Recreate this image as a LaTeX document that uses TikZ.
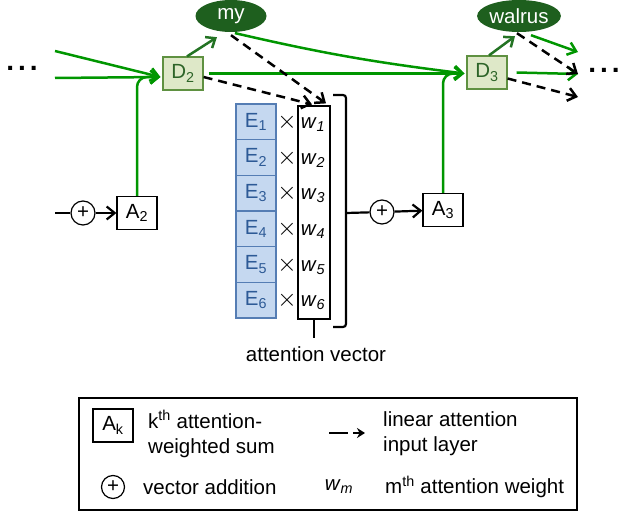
\documentclass[tikz,border=0pt]{standalone}
\usepackage{fontspec}
\setmainfont{Liberation Sans}
\usepackage{xcolor}
\usepackage{tikz}
\usetikzlibrary{arrows.meta, positioning, shapes.geometric}

\definecolor{FlowGreen}{RGB}{0,150,0}
\definecolor{WordGreen}{RGB}{30,95,30}
\definecolor{EmitGreen}{RGB}{35,115,35}
\definecolor{DecFill}{RGB}{222,232,200}
\definecolor{DecBorder}{RGB}{95,145,65}
\definecolor{DecText}{RGB}{45,100,40}
\definecolor{EncFill}{RGB}{197,216,240}
\definecolor{EncBorder}{RGB}{85,125,180}
\definecolor{EncText}{RGB}{45,90,150}

\begin{document}
\begin{tikzpicture}[
            x=1pt, y=-1pt,
            font=\fontsize{20.5}{25}\selectfont,
            word/.style={ellipse, fill=WordGreen, text=white, minimum width=71pt, minimum height=32pt, inner sep=0pt},
            dec/.style={draw=DecBorder, fill=DecFill, text=DecText, line width=1.2pt, minimum width=40pt, minimum height=33pt, inner sep=0pt},
            sum/.style={draw, line width=1.2pt, minimum width=40pt, minimum height=33pt, inner sep=0pt},
            enc/.style={draw=EncBorder, fill=EncFill, text=EncText, line width=1.2pt, minimum width=40pt, minimum height=35.7pt, inner sep=0pt},
            add/.style={circle, draw, line width=1.2pt, minimum size=24pt, inner sep=0pt},
            times/.style={font=\fontsize{26}{26}\selectfont, inner sep=0pt},
            txt/.style={inner sep=0pt, align=left},
            dots/.style={font=\fontsize{28}{28}\selectfont\bfseries, inner sep=0pt},
            flow/.style={draw=FlowGreen, line width=2.5pt, -{Straight Barb[length=8pt, width=13pt]}},
            emit/.style={draw=EmitGreen, line width=2.5pt, -{Straight Barb[length=8pt, width=13pt]}},
            attn/.style={line width=2.5pt, dash pattern=on 9pt off 6pt, -{Straight Barb[length=8pt, width=13pt]}},
            conn/.style={line width=2.2pt, -{Straight Barb[length=8pt, width=13pt]}}
        ]

        \useasboundingbox (0,0) rectangle (619,516);

        % Words and decoder states
        \node[word] (my) at (231,16) {my};
        \node[word] (walrus) at (519,16) {walrus};
        \node[dec] (D2) at (183,73.5) {D\textsubscript{2}};
        \node[dec] (D3) at (487,72.5) {D\textsubscript{3}};
        \node[dots] (ldots) at (22,68) {.\hspace{4pt}.\hspace{4pt}.};
        \node[dots] (rdots) at (604,70) {.\hspace{4pt}.\hspace{4pt}.};

        % Attention sums
        \node[sum] (A2) at (137,213) {A\textsubscript{2}};
        \node[sum] (A3) at (443,210) {A\textsubscript{3}};
        \node[add] (add2) at (83,213) {+};
        \node[add] (add3) at (382,212) {+};

        % Encoder states
        \node[enc] (E1) at (256,121.8) {E\textsubscript{1}};
        \node[enc] (E2) at (256,157.5) {E\textsubscript{2}};
        \node[enc] (E3) at (256,193.2) {E\textsubscript{3}};
        \node[enc] (E4) at (256,228.8) {E\textsubscript{4}};
        \node[enc] (E5) at (256,264.5) {E\textsubscript{5}};
        \node[enc] (E6) at (256,300.2) {E\textsubscript{6}};

        \node[times] (x1) at (287,122) {$\times$};
        \node[times] (x2) at (287,158) {$\times$};
        \node[times] (x3) at (287,193) {$\times$};
        \node[times] (x4) at (287,229) {$\times$};
        \node[times] (x5) at (287,265) {$\times$};
        \node[times] (x6) at (287,300) {$\times$};

        % Attention vector
        \node[draw, line width=1.2pt, minimum width=32pt, minimum height=213pt, inner sep=0pt] (wbox) at (314,212.5) {};
        \node (w1) at (313,125) {\textit{w}\textsubscript{\textit{1}}};
        \node (w2) at (313,161) {\textit{w}\textsubscript{\textit{2}}};
        \node (w3) at (313,196) {\textit{w}\textsubscript{\textit{3}}};
        \node (w4) at (313,232) {\textit{w}\textsubscript{\textit{4}}};
        \node (w5) at (313,268) {\textit{w}\textsubscript{\textit{5}}};
        \node (w6) at (313,303) {\textit{w}\textsubscript{\textit{6}}};
        \node (vec) at (316,354) {attention vector};
        \draw[line width=2.2pt] (wbox.south) -- ++(0,18);

        \draw[line width=2.2pt, rounded corners=3pt] (333,95) -- (346,95) -- (346,327) -- (333,327);
        \coordinate (bmid) at (346,213);

        % Free ends
        \coordinate (in0) at (55,213);
        \coordinate (in1) at (55,51);
        \coordinate (in2) at (55,78);
        \coordinate (out1) at (578,52);
        \coordinate (out2) at (578,74);
        \coordinate (out3) at (578,97);
        \coordinate (j2) at ([xshift=-2pt, yshift=-3.5pt]D2.west);
        \coordinate (j3) at ([xshift=-2pt, yshift=-1pt]D3.west);

        % Edges
        \draw[line width=2.2pt] (in0) -- (add2);
        \draw[conn] (add2) -- (A2);
        \draw[line width=2.2pt] (bmid) -- (add3);
        \draw[conn] (add3) -- (A3);

        \draw[flow] (in1) -- (j2);
        \draw[flow] (in2) -- (j2);
        \draw[flow, rounded corners=10pt] (A2.north) |- (j2);
        \draw[emit] ([xshift=4pt]D2.north) -- ([xshift=-14pt, yshift=-5pt]my.south);
        \draw[flow] ([xshift=5pt]D2.east) -- (j3);
        \draw[flow, shorten <=4pt] (my.south) to[bend right=3] (j3);
        \draw[flow, rounded corners=10pt] (A3.north) |- (j3);

        \draw[emit] ([xshift=2pt]D3.north) -- ([xshift=-4pt, yshift=-4pt]walrus.south);
        \draw[flow] ([xshift=12pt, yshift=-3pt]walrus.south) -- (out1);
        \draw[flow] ([xshift=9pt]D3.east) -- (out2);
        \draw[attn] ([xshift=-2pt, yshift=-1pt]walrus.south) -- (out2);
        \draw[attn] ([yshift=-6pt]D3.east) -- (out3);

        \draw[attn] ([yshift=-3pt]my.south) -- ([xshift=12pt, yshift=2pt]wbox.north);
        \draw[attn] ([yshift=-3.5pt]D2.east) -- ([xshift=-2pt, yshift=1pt]wbox.north);

        % Legend
        \draw[line width=1.2pt] (79,398) rectangle (577,510);
        \node[sum] (key1) at (113,425.5) {A\textsubscript{k}};
        \node[txt, anchor=west] (key1t) at (148,434) {k\textsuperscript{th} attention-\\weighted sum};
        \node[add, minimum size=23pt] (key2) at (113,487) {+};
        \node[txt, anchor=west] (key2t) at (143,487) {vector addition};
        \coordinate (k3a) at (329,433);
        \coordinate (k3b) at (365,433);
        \draw[line width=2.5pt, dash pattern=on 19pt off 5pt, -{Stealth[length=8pt, width=10pt]}] (k3a) -- (k3b);
        \node[txt, anchor=west] (key3t) at (383,434) {linear attention\\input layer};
        \node (key4) at (339,487) {\textit{w}\textsubscript{\textit{m}}};
        \node[txt, anchor=west] (key4t) at (385,487) {m\textsuperscript{th} attention weight};

    \end{tikzpicture}
\end{document}
